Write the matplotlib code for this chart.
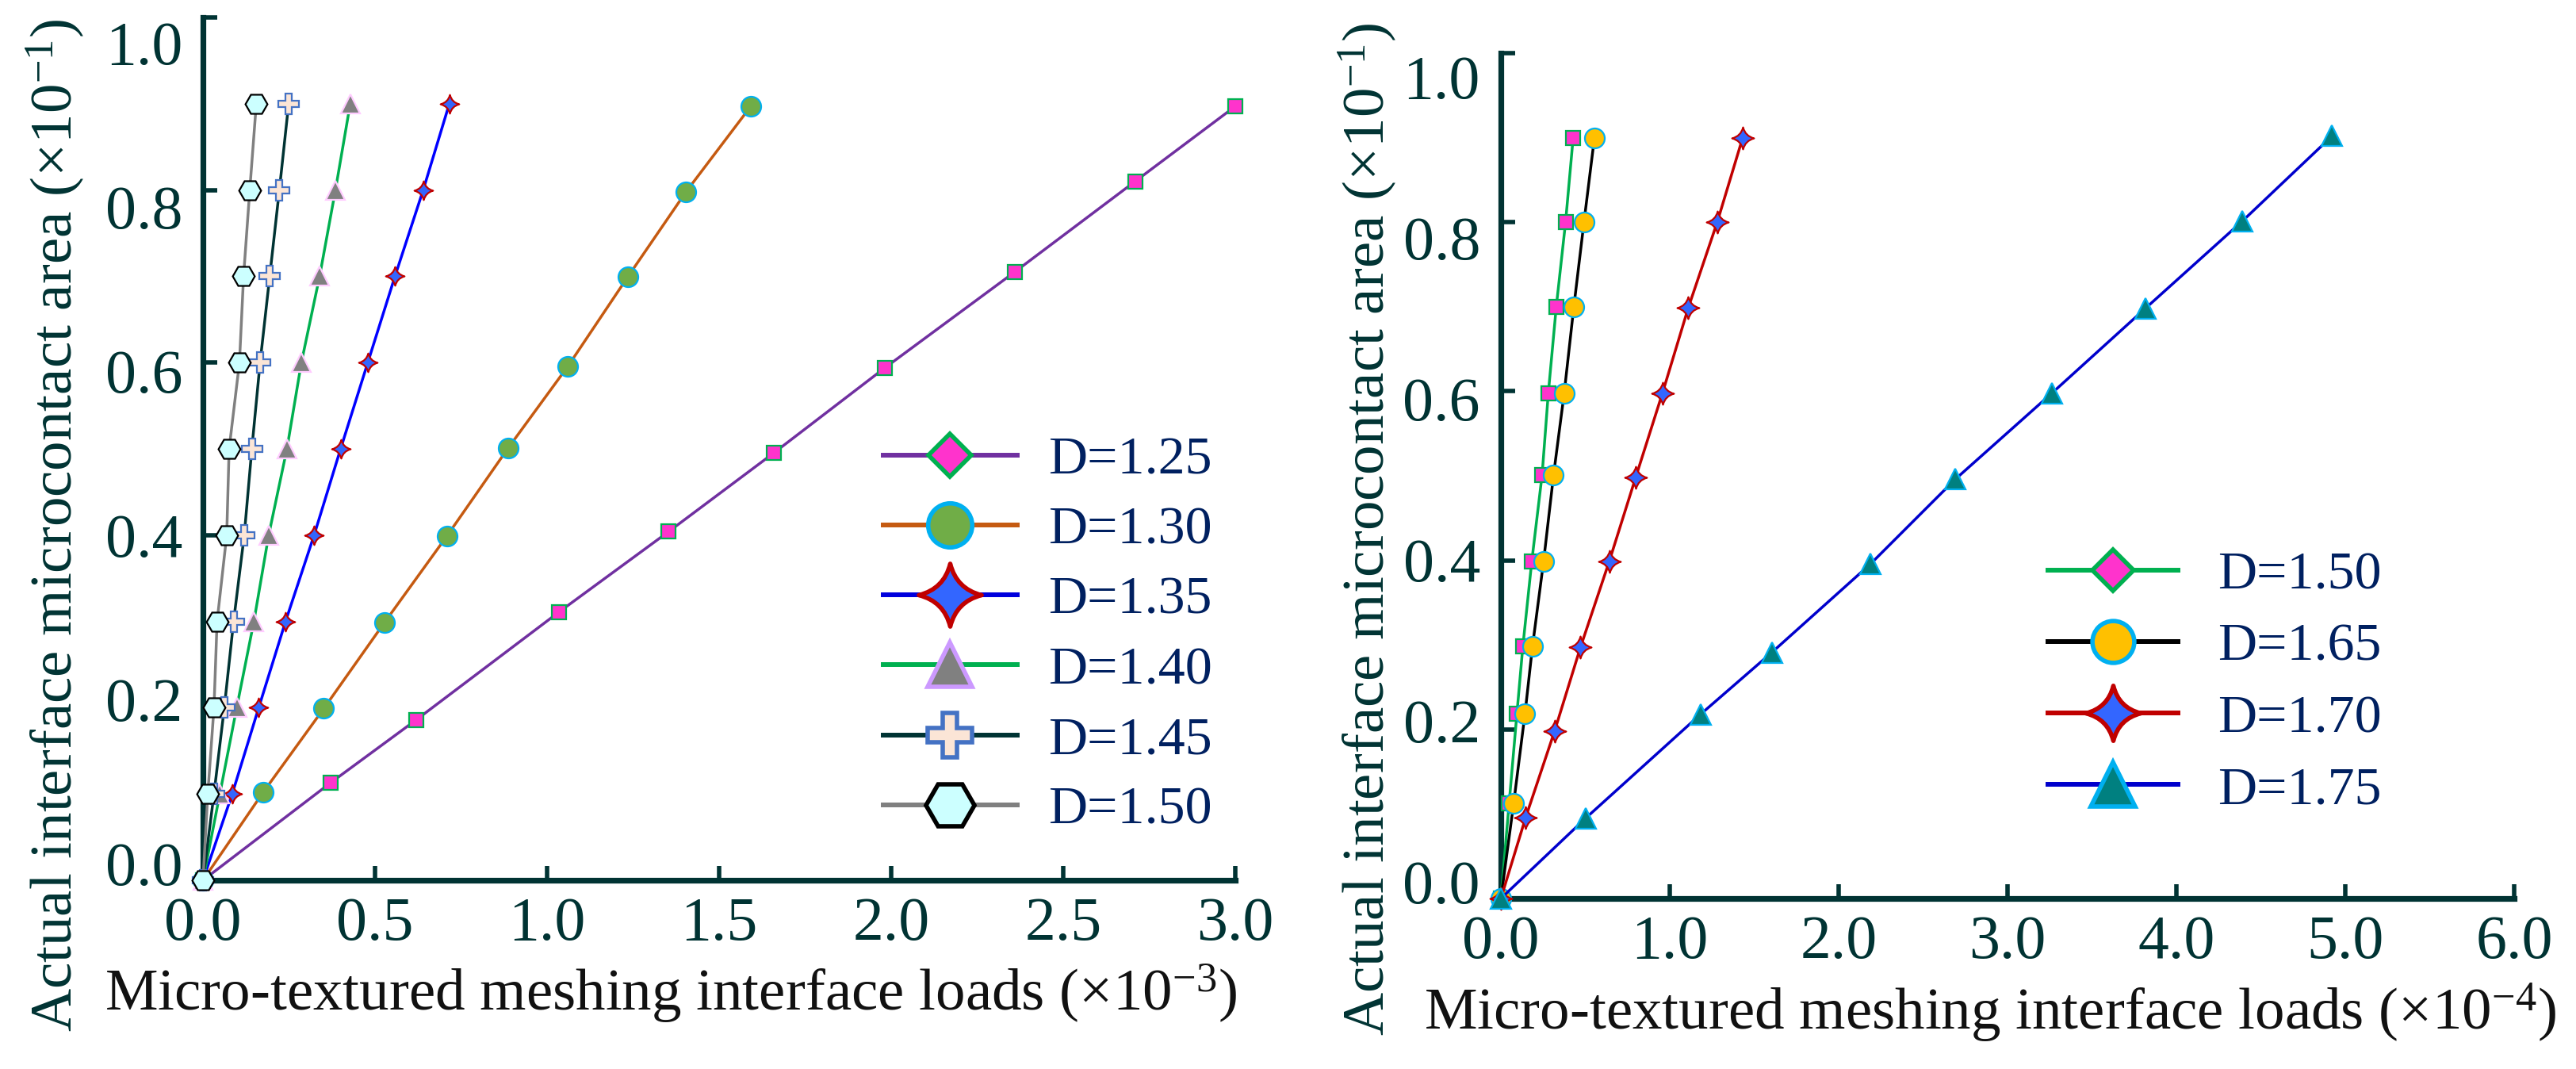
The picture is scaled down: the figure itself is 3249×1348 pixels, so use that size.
import matplotlib
matplotlib.use("Agg")
import matplotlib.pyplot as plt
from matplotlib.path import Path
from matplotlib.lines import Line2D
from matplotlib.ticker import FormatStrFormatter

plt.rcParams['font.family'] = ['Liberation Serif', 'DejaVu Serif']
plt.rcParams['mathtext.fontset'] = 'custom'
plt.rcParams['mathtext.rm'] = 'Liberation Serif'
plt.rcParams['mathtext.it'] = 'Liberation Serif:italic'

# ---- left panel data (loads x10^-3, area x10^-1) ----
left_labels = ["D=1.25", "D=1.30", "D=1.35", "D=1.40", "D=1.45", "D=1.50"]
y_step = [0.0, 0.1, 0.2, 0.3, 0.4, 0.5, 0.6, 0.7, 0.8, 0.9]

x_125 = [0.0, 0.371, 0.620, 1.035, 1.353, 1.658, 1.982, 2.359, 2.709, 3.0]
y_125 = [0.0, 0.113, 0.186, 0.311, 0.404, 0.495, 0.594, 0.705, 0.810, 0.897]
x_130 = [0.0, 0.175, 0.351, 0.528, 0.709, 0.887, 1.061, 1.234, 1.404, 1.592]
y_130 = [0.0, 0.102, 0.199, 0.299, 0.399, 0.501, 0.596, 0.699, 0.798, 0.897]
x_135 = [0.0, 0.085, 0.162, 0.240, 0.323, 0.400, 0.479, 0.558, 0.640, 0.716]
x_140 = [0.0, 0.049, 0.098, 0.148, 0.191, 0.244, 0.286, 0.339, 0.385, 0.428]
x_145 = [0.0, 0.032, 0.062, 0.089, 0.120, 0.142, 0.166, 0.194, 0.222, 0.249]
x_150 = [0.0, 0.014, 0.032, 0.041, 0.069, 0.076, 0.106, 0.118, 0.136, 0.155]

# ---- right panel data (loads x10^-4, area x10^-1) ----
right_labels = ["D=1.50", "D=1.65", "D=1.70", "D=1.75"]
y_r1 = [0.0, 0.113, 0.219, 0.298, 0.399, 0.501, 0.598, 0.700, 0.800, 0.900]
xr_150 = [0.0, 0.049, 0.095, 0.130, 0.183, 0.244, 0.281, 0.328, 0.383, 0.428]
xr_165 = [0.0, 0.076, 0.143, 0.187, 0.253, 0.312, 0.375, 0.432, 0.492, 0.554]
yr_170 = [0.0, 0.096, 0.198, 0.297, 0.399, 0.498, 0.598, 0.699, 0.800, 0.900]
xr_170 = [0.0, 0.147, 0.318, 0.471, 0.642, 0.798, 0.957, 1.110, 1.281, 1.432]
yr_175 = [0.0, 0.095, 0.218, 0.291, 0.396, 0.496, 0.598, 0.698, 0.801, 0.902]
xr_175 = [0.0, 0.502, 1.183, 1.604, 2.190, 2.691, 3.264, 3.816, 4.389, 4.922]

left_xticks = [0.0, 0.5, 1.0, 1.5, 2.0, 2.5, 3.0]
right_xticks = [0.0, 1.0, 2.0, 3.0, 4.0, 5.0, 6.0]
yticks = [0.0, 0.2, 0.4, 0.6, 0.8, 1.0]

# four-pointed star with concave sides
c = 0.2
star = Path([(0, 1), (c, c), (1, 0), (c, -c), (0, -1), (-c, -c), (-1, 0), (-c, c), (0, 1), (0, 1)],
            [Path.MOVETO, Path.CURVE3, Path.CURVE3, Path.CURVE3, Path.CURVE3,
             Path.CURVE3, Path.CURVE3, Path.CURVE3, Path.CURVE3, Path.CLOSEPOLY])

W, H = 3249, 1348
PT = 0.72  # points per pixel at dpi 100
AX_COL = "#003333"
fig = plt.figure(figsize=(W / 100, H / 100), dpi=100)


def box(x0, y0, x1, y1):
    return [x0 / W, 1 - y1 / H, (x1 - x0) / W, (y1 - y0) / H]


def style_axes(ax, xticks, k):
    for s in ["top", "right"]:
        ax.spines[s].set_visible(False)
    for s in ["left", "bottom"]:
        ax.spines[s].set_linewidth(5.2)
        ax.spines[s].set_color(AX_COL)
        ax.spines[s].set_capstyle("projecting")
    ax.set_xticks(xticks)
    ax.set_yticks(yticks)
    ax.xaxis.set_major_formatter(FormatStrFormatter("%.1f"))
    ax.tick_params(direction="in", length=13, width=4, color=AX_COL,
                   labelcolor=AX_COL, labelsize=56)
    ax.tick_params(axis="x", pad=15)
    ax.tick_params(axis="y", labelleft=False)
    ax.set_xlim(xticks[0], xticks[-1])
    ax.set_ylim(0, 1.0)
    # y labels drawn by hand: in the original they sit a bit tighter than the ticks
    for v in yticks:
        dy = -13 + k * v
        ax.annotate("%.1f" % v, xy=(0, v), xycoords=ax.get_yaxis_transform(),
                    xytext=(-26 * PT, -dy * PT), textcoords="offset points",
                    ha="right", va="center", fontsize=56, color=AX_COL,
                    annotation_clip=False)


def series(ax, x, y, lc, mk, ms, fc, ec):
    ax.plot(x, y, color=lc, lw=2.5, marker=mk, ms=ms, mfc=fc, mec=ec, mew=1.6,
            clip_on=False, zorder=3)


def handle(lc, mk, ms, fc, ec):
    return Line2D([], [], color=lc, lw=4.3, marker=mk, ms=ms, mfc=fc, mec=ec, mew=4)


# ---------------- left panel ----------------
ax1 = fig.add_axes(box(256, 22, 1558, 1110))
style_axes(ax1, left_xticks, 53)
series(ax1, x_125, y_125, "#7030A0", "s", 13.5, "#FF33CC", "#00B050")
series(ax1, x_130, y_130, "#C55A11", "o", 18, "#70AD47", "#00B0F0")
series(ax1, x_135, y_step, "#0000FF", star, 17, "#3366FF", "#C00000")
series(ax1, x_140, y_step, "#00B050", "^", 17, "#808080", "#FFCCFF")
series(ax1, x_145, y_step, "#003333", "P", 19, "#FBE5D6", "#4472C4")
series(ax1, x_150, y_step, "#808080", "H", 20, "#CCFFFF", "#000000")

h1 = [handle("#7030A0", "D", 27, "#FF33CC", "#00B050"),
      handle("#C55A11", "o", 40, "#70AD47", "#00B0F0"),
      handle("#0000DD", star, 57, "#3366FF", "#C00000"),
      handle("#00B050", "^", 40, "#808080", "#CC99FF"),
      handle("#003333", "P", 41, "#FBE5D6", "#4472C4"),
      handle("#808080", "H", 44, "#CCFFFF", "#000000")]
ax1.legend(h1, left_labels, loc="upper left", bbox_to_anchor=(1114 / W, 1 - 550 / H),
           bbox_transform=fig.transFigure, frameon=False, fontsize=49,
           handlelength=2.48, handletextpad=0.57, labelspacing=0.39,
           borderpad=0, borderaxespad=0, labelcolor="#002060")

# ---------------- right panel ----------------
ax2 = fig.add_axes(box(1893, 67, 3171, 1133))
style_axes(ax2, right_xticks, 51)
series(ax2, xr_150, y_r1, "#00B050", "s", 13, "#FF33CC", "#00B050")
series(ax2, xr_165, y_r1, "#000000", "o", 18, "#FFC000", "#00B0F0")
series(ax2, xr_170, yr_170, "#C00000", star, 20, "#3366FF", "#C00000")
series(ax2, xr_175, yr_175, "#0000CC", "^", 19, "#008080", "#00B0F0")

h2 = [handle("#00B050", "D", 26, "#FF33CC", "#00B050"),
      handle("#000000", "o", 38, "#FFC000", "#00B0F0"),
      handle("#C00000", star, 50, "#3366FF", "#C00000"),
      handle("#0000CC", "^", 40, "#008080", "#00B0F0")]
ax2.legend(h2, right_labels, loc="upper left", bbox_to_anchor=(2583 / W, 1 - 695 / H),
           bbox_transform=fig.transFigure, frameon=False, fontsize=49,
           handlelength=2.41, handletextpad=0.73, labelspacing=0.42,
           borderpad=0, borderaxespad=0, labelcolor="#002060")

# ---------------- axis titles ----------------
fig.text(846 / W, 1 - 1253 / H, r"Micro-textured meshing interface loads (×10$^{-3}$)",
         ha="center", va="center", fontsize=54, color="#111111")
fig.text(2510 / W, 1 - 1277 / H, r"Micro-textured meshing interface loads (×10$^{-4}$)",
         ha="center", va="center", fontsize=54, color="#111111")
fig.text(70 / W, 1 - 662 / H, r"Actual interface microcontact area (×10$^{-1}$)",
         ha="center", va="center", rotation=90, fontsize=54, color=AX_COL)
fig.text(1725 / W, 1 - 667 / H, r"Actual interface microcontact area (×10$^{-1}$)",
         ha="center", va="center", rotation=90, fontsize=54, color=AX_COL)

fig.savefig("out.png", dpi=100)
